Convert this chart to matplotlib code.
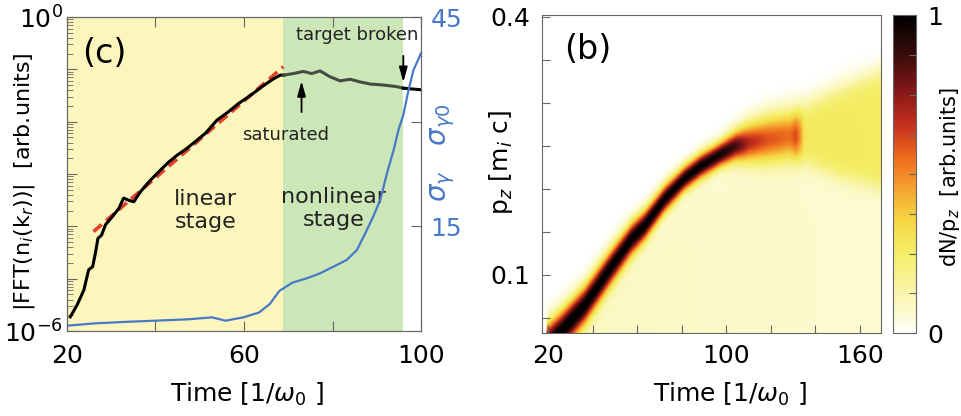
import numpy as np
import matplotlib.pyplot as plt
from matplotlib.colors import LinearSegmentedColormap
from matplotlib.ticker import FixedLocator, FixedFormatter, LogLocator, NullFormatter

plt.rcParams['font.family'] = ['DejaVu Sans']
plt.rcParams['mathtext.fontset'] = 'dejavusans'

# ---- (c) growth of the ion density modulation ----
fft_time = [20.75, 22.3, 23.8, 24.9, 25.8, 26.4, 27.0, 27.8, 28.7, 30.2, 31.7, 32.8,
            33.9, 35.1, 36.6, 38.5, 40.7, 43.0, 44.9, 47.1, 49.0, 51.3, 53.9, 56.5,
            58.8, 61.1, 64.1, 66.3, 68.2, 69.0, 71.2, 73.4, 75.3, 77.2, 79.4, 81.7,
            84.0, 86.2, 88.5, 91.5, 94.5, 96.0, 100.0]
fft_log10 = [-5.73, -5.50, -5.22, -4.83, -4.77, -4.52, -4.23, -4.17, -3.97, -3.82, -3.66, -3.46,
             -3.50, -3.53, -3.34, -3.15, -2.96, -2.77, -2.64, -2.51, -2.38, -2.22, -1.97, -1.81,
             -1.65, -1.52, -1.33, -1.20, -1.11, -1.11, -1.08, -1.04, -1.08, -1.03, -1.14, -1.22,
             -1.19, -1.24, -1.28, -1.30, -1.33, -1.36, -1.39]
fit_time = [26.0, 68.9]
fit_log10 = [-4.10, -0.95]
sigma_time = [20.0, 26.4, 33.9, 40.0, 47.5, 52.8, 55.8, 59.9, 63.4, 65.8, 68.0, 71.0, 74.2,
              77.2, 80.2, 83.2, 85.5, 87.4, 89.2, 90.8, 92.3, 93.8, 94.9, 96.0, 97.1, 98.3, 100.0]
sigma_val = [0.76, 1.1, 1.33, 1.48, 1.68, 1.96, 1.48, 1.96, 2.65, 3.85, 5.75, 6.95, 7.55,
             8.27, 9.22, 10.18, 11.6, 14.0, 16.4, 18.8, 22.6, 25.9, 28.8, 30.95, 34.3, 37.4, 39.8]
linear_stage = (20.0, 68.9)
nonlinear_stage = (68.9, 95.9)

# ---- (b) ion momentum spectrum dN/dp_z ----
ridge_time = [19, 26, 36, 48, 57, 63, 72, 81, 88, 97, 104, 110, 118, 126, 131, 135]
ridge_p = [0.018, 0.035, 0.064, 0.109, 0.141, 0.157, 0.188, 0.212, 0.226, 0.240,
           0.250, 0.254, 0.258, 0.261, 0.262, 0.262]
ridge_peak = [1.0, 1.0, 0.98, 0.98, 0.98, 0.98, 0.98, 0.98, 0.98, 0.95,
              0.80, 0.58, 0.48, 0.44, 0.40, 0.0]
ridge_width = [0.016, 0.016, 0.015, 0.014, 0.013, 0.012, 0.011, 0.010, 0.010, 0.010,
               0.012, 0.015, 0.018, 0.019, 0.019, 0.019]
fan_time = [95, 110, 128, 133, 150, 170]
fan_low = [0.225, 0.228, 0.232, 0.232, 0.215, 0.200]
fan_high = [0.258, 0.282, 0.292, 0.295, 0.316, 0.338]
fan_level = [0.0, 0.10, 0.12, 0.28, 0.27, 0.26]
haze_time = [20, 30, 170]
haze_top = [0.015, 0.04, 0.200]
haze_level = [0.0, 0.09, 0.06]
haze_edge_time = [20, 28, 40, 60, 90, 120, 140, 170]
haze_edge_p = [0.015, 0.035, 0.075, 0.145, 0.215, 0.240, 0.222, 0.200]

blue = '#4878c8'
grey = '#666666'

fig = plt.figure(figsize=(9.61, 4.16), dpi=100)

# ---------------- panel (c) ----------------
ax = fig.add_axes([0.0697, 0.2043, 0.3684, 0.7548])
ax.axvspan(*linear_stage, color='#fcf6bd', lw=0, zorder=0)
ax.axvspan(*nonlinear_stage, color='#cbe7b7', lw=0, zorder=0)

t = np.array(fft_time)
amp = 10.0 ** np.array(fft_log10)
ax.plot(fit_time, 10.0 ** np.array(fit_log10), color='#e0402c',
        lw=2.6, dashes=(3, 1.6), zorder=2)
m1 = t <= 69.0
m2 = (t >= 69.0) & (t <= 96.0)
m3 = t >= 96.0
ax.plot(t[m1], amp[m1], color='black', lw=2.2, zorder=3)
ax.plot(t[m2], amp[m2], color='#454c44', lw=2.2, zorder=3)
ax.plot(t[m3], amp[m3], color='black', lw=2.2, zorder=3)

ax.set_yscale('log')
ax.set_xlim(20, 100)
ax.set_ylim(1e-6, 1)
ax.yaxis.set_major_locator(FixedLocator([10.0 ** k for k in range(-6, 1)]))
ax.yaxis.set_major_formatter(FixedFormatter(['$10^{-6}$', '', '', '', '', '', '$10^{0}$']))
ax.yaxis.set_minor_locator(LogLocator(base=10, subs=np.arange(2, 10)))
ax.yaxis.set_minor_formatter(NullFormatter())
ax.set_xticks([20, 40, 60, 80, 100])
ax.set_xticklabels(['20', '', '60', '', '100'])
ax.tick_params(axis='both', which='major', direction='in', length=7, color=grey,
               labelsize=18, top=True)
ax.tick_params(axis='y', which='minor', direction='in', length=4, color=grey)
ax.tick_params(axis='y', pad=3)
ax.tick_params(axis='x', pad=9)
for s in ax.spines.values():
    s.set_color(grey)

ax.set_xlabel(r'Time [1/$\omega_0$ ]', fontsize=18)
ax.xaxis.set_label_coords(0.51, -0.16)
ax.set_ylabel(r'|FFT(n$_i$(k$_r$))|  [arb.units]', fontsize=16)
ax.yaxis.set_label_coords(-0.085, 0.475)

ax.text(0.105, 0.883, '(c)', transform=ax.transAxes, fontsize=24, ha='center', va='center')
ax.text(0.391, 0.385, 'linear\nstage', transform=ax.transAxes, fontsize=16,
        ha='center', va='center', linespacing=1.2, color='#222222')
ax.text(0.753, 0.39, 'nonlinear\nstage', transform=ax.transAxes, fontsize=16,
        ha='center', va='center', linespacing=1.2, color='#222222')
ax.annotate('', xy=(73.0, 10 ** -1.17), xytext=(73.0, 10 ** -1.87),
            arrowprops=dict(arrowstyle='-|>,head_width=0.25,head_length=0.9', color='black', lw=1.3))
ax.text(69.4, 10 ** -2.25, 'saturated', fontsize=13, ha='center', va='center', color='#222222')
ax.annotate('', xy=(96.0, 10 ** -1.30), xytext=(96.0, 10 ** -0.69),
            arrowprops=dict(arrowstyle='-|>,head_width=0.25,head_length=0.9', color='black', lw=1.3))
ax.text(85.5, 10 ** -0.344, 'target broken', fontsize=13, ha='center', va='center', color='#222222')

ax2 = ax.twinx()
ax2.plot(sigma_time, sigma_val, color=blue, lw=1.6)
ax2.set_ylim(0, 45)
ax2.set_yticks([15, 30, 45])
ax2.set_yticklabels(['15', '', '45'])
ax2.tick_params(axis='y', direction='in', length=7, color=grey, labelsize=18,
                labelcolor=blue, pad=7)
for s in ax2.spines.values():
    s.set_color(grey)
ax2.set_ylabel(r'$\sigma_\gamma\ \ \ \sigma_{\gamma 0}$', fontsize=20, color=blue, rotation=90)
ax2.yaxis.set_label_coords(1.02, 0.57)

# ---------------- panel (b) ----------------
cmap = LinearSegmentedColormap.from_list('spec', [
    (0.0, '#ffffff'), (0.04, '#fdfcdc'), (0.12, '#faf6b0'), (0.25, '#f4ee66'),
    (0.35, '#f5d845'), (0.45, '#f5a530'), (0.55, '#ef6d1d'), (0.65, '#c8321f'),
    (0.75, '#8c1a18'), (0.87, '#3d0c0c'), (1.0, '#000000')])

xlim_b = (17.0, 169.5)
ylim_b = (0.032, 0.402)
tt, pp = np.meshgrid(np.linspace(*xlim_b, 610), np.linspace(*ylim_b, 370))
c = np.interp(tt, ridge_time, ridge_p)
w = np.interp(tt, ridge_time, ridge_width)
a = np.interp(tt, ridge_time, ridge_peak, left=0.0, right=0.0)
ridge = a * np.exp(-0.5 * ((pp - c) / w) ** 2)
lo = np.interp(tt, fan_time, fan_low)
hi = np.interp(tt, fan_time, fan_high)
lv = np.interp(tt, fan_time, fan_level, left=0.0)
fan = lv / (1 + np.exp(-(pp - lo) / 0.007)) / (1 + np.exp(-(hi - pp) / 0.007))
top = np.interp(tt, haze_edge_time, haze_edge_p)
hz = np.interp(tt, haze_time, haze_level, left=0.0)
haze = hz / (1 + np.exp(-(top - pp) / 0.012))
field = np.clip(ridge + fan + haze, 0, 1)

bx = fig.add_axes([0.5637, 0.1995, 0.3531, 0.7644])
im = bx.imshow(field, origin='lower', extent=[*xlim_b, *ylim_b], aspect='auto',
               cmap=cmap, vmin=0, vmax=1, interpolation='bilinear')
bx.set_xlim(*xlim_b)
bx.set_ylim(*ylim_b)
bx.set_xticks([20, 40, 60, 80, 100, 120, 140, 160])
bx.set_xticklabels(['20', '', '', '', '100', '', '', '160'])
bx.set_yticks([0.05, 0.1, 0.15, 0.2, 0.25, 0.3, 0.35, 0.4])
bx.set_yticklabels(['', '0.1', '', '', '', '', '', '0.4'])
bx.tick_params(direction='in', length=6, color=grey, labelsize=18)
bx.tick_params(axis='x', pad=8)
bx.tick_params(axis='y', pad=8)
for s in bx.spines.values():
    s.set_color(grey)
bx.set_xlabel(r'Time [1/$\omega_0$ ]', fontsize=18)
bx.xaxis.set_label_coords(0.555, -0.15)
bx.set_ylabel(r'p$_z$ [m$_i$ c]', fontsize=18)
bx.yaxis.set_label_coords(-0.079, 0.538)
bx.text(0.136, 0.89, '(b)', transform=bx.transAxes, fontsize=24, ha='center', va='center')

cax = fig.add_axes([0.9293, 0.1995, 0.024, 0.7644])
cb = fig.colorbar(im, cax=cax)
cb.set_ticks(np.linspace(0, 1, 9))
cb.set_ticklabels(['0', '', '', '', '', '', '', '', '1'])
cb.ax.tick_params(direction='in', length=5, color=grey, labelsize=18, pad=8)
cb.outline.set_edgecolor(grey)
cb.set_label(r'dN/p$_z$  [arb.units]', fontsize=15)
cb.ax.yaxis.set_label_coords(1.96, 0.49)

fig.savefig('out.png', dpi=100)
